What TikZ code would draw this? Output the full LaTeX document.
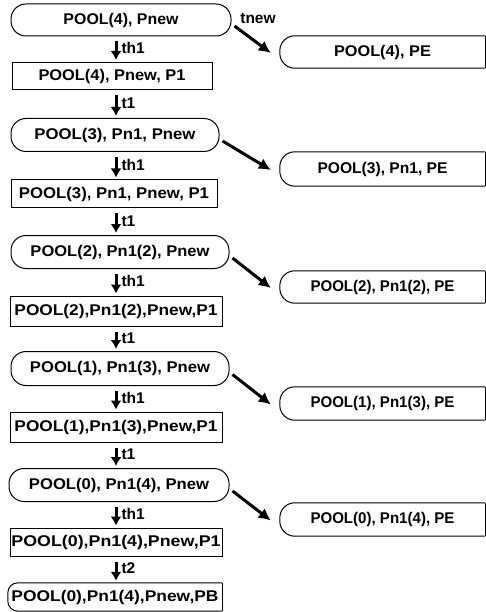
\documentclass[tikz,border=0pt]{standalone}
\usepackage{fontspec}
\usepackage{graphicx}
\setmainfont{Liberation Sans}
\usetikzlibrary{arrows.meta}
\newcommand{\fw}[2]{\resizebox{#1pt}{\height}{#2}}
\begin{document}
\begin{tikzpicture}[x=1pt,y=-1pt,
  base/.style={font=\bfseries\fontsize{15.5}{17}\selectfont, inner sep=0pt, anchor=center},
  pill/.style={base, draw, rounded corners=15pt, line width=1pt},
  rbox/.style={base, draw, line width=1pt},
  half/.style={base},
  hline/.style={line width=1pt},
  varrow/.style={-{Latex[length=9pt,width=11pt]}, line width=3pt, shorten <=5pt, shorten >=2pt},
  darrow/.style={-{Latex[length=12pt,width=12pt]}, line width=3pt},
  lab/.style={font=\bfseries\fontsize{15.5}{17}\selectfont, inner sep=1pt}
]
\useasboundingbox (0,0) rectangle (486,612);
% left column
\node[pill, minimum width=220pt, minimum height=32pt] (n1) at (121,20) {\fw{115}{POOL(4), Pnew}};
\node[rbox, minimum width=200pt, minimum height=27pt] (n2) at (112,76) {\fw{147}{POOL(4), Pnew, P1}};
\node[pill, minimum width=208pt, minimum height=33pt] (n3) at (115,135) {\fw{161}{POOL(3), Pn1, Pnew}};
\node[rbox, minimum width=206pt, minimum height=28pt] (n4) at (114,194) {\fw{190}{POOL(3), Pn1, Pnew, P1}};
\node[pill, minimum width=218pt, minimum height=33pt] (n5) at (120,252) {\fw{179}{POOL(2), Pn1(2), Pnew}};
\node[rbox, minimum width=212pt, minimum height=30pt] (n6) at (116,311) {\fw{203}{POOL(2),Pn1(2),Pnew,P1}};
\node[pill, minimum width=218pt, minimum height=34pt] (n7) at (120,368.5) {\fw{180}{POOL(1), Pn1(3), Pnew}};
\node[rbox, minimum width=212pt, minimum height=30pt] (n8) at (116,427) {\fw{203}{POOL(1),Pn1(3),Pnew,P1}};
\node[pill, minimum width=220pt, minimum height=33pt] (n9) at (119,485) {\fw{180}{POOL(0), Pn1(4), Pnew}};
\node[rbox, minimum width=212pt, minimum height=28pt] (n10) at (116,542) {\fw{209}{POOL(0),Pn1(4),Pnew,P1}};
\node[half, minimum width=214pt, minimum height=28pt] (n11) at (115,597) {\fw{207}{POOL(0),Pn1(4),Pnew,PB}};
\draw[hline] (n11.north east) -- (n11.south east);
\draw[hline, rounded corners=10pt] (n11.north east) -- (n11.north west) -- (n11.south west) -- (n11.south east);
% right column
\node[half, minimum width=205pt, minimum height=32pt] (r1) at (382.5,52) {\fw{97}{POOL(4), PE}};
\node[half, minimum width=205pt, minimum height=34pt] (r2) at (382.5,169) {\fw{130}{POOL(3), Pn1, PE}};
\node[half, minimum width=205pt, minimum height=32pt] (r3) at (382.5,287) {\fw{144}{POOL(2), Pn1(2), PE}};
\node[half, minimum width=205pt, minimum height=33pt] (r4) at (382.5,403.5) {\fw{144}{POOL(1), Pn1(3), PE}};
\node[half, minimum width=205pt, minimum height=33pt] (r5) at (382.5,519.5) {\fw{144}{POOL(0), Pn1(4), PE}};
\foreach \r in {r1,r2,r3,r4,r5}{
  \draw[hline] (\r.north east) -- (\r.south east);
  \draw[hline, rounded corners=15pt] (\r.north east) -- (\r.north west) -- (\r.south west) -- (\r.south east);
}
% vertical arrows
\coordinate (ax) at (116,0);
\foreach \a/\b/\t in {n1/n2/th1, n2/n3/t1, n3/n4/th1, n4/n5/t1, n5/n6/th1, n6/n7/t1, n7/n8/th1, n8/n9/t1, n9/n10/th1, n10/n11/t2}{
  \draw[varrow] (\a.south -| ax) -- node[lab, right, xshift=3pt, yshift=1pt] {\t} (\b.north -| ax);
}
% diagonal arrows
\node[lab] (tn) at (258,19) {tnew};
\foreach \a/\b in {n1/r1, n3/r2, n5/r3, n7/r4, n9/r5}{
  \draw[darrow] ([shift={(3,6)}]\a.east) -- ([shift={(-9,1)}]\b.west);
}
\end{tikzpicture}
\end{document}
